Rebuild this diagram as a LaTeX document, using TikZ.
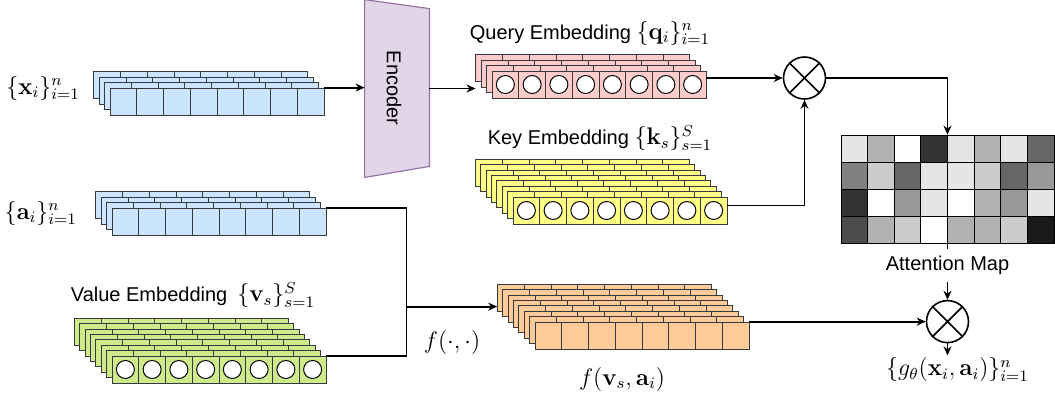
\documentclass[tikz,border=0pt]{standalone}
\usepackage{amsmath}
\usepackage{amssymb}
\usepackage[no-math]{fontspec}
\usepackage{tikz}
\usetikzlibrary{arrows.meta,positioning}
\newfontfamily\arialfont{Liberation Sans}
\definecolor{xblue}{HTML}{CCE5FF}
\definecolor{qpink}{HTML}{FFCCCC}
\definecolor{kyellow}{HTML}{FFFF88}
\definecolor{vgreen}{HTML}{CDEB8B}
\definecolor{forange}{HTML}{FFCC99}
\definecolor{encfill}{HTML}{E1D5E7}
\definecolor{encline}{HTML}{9673A6}
\definecolor{cellline}{HTML}{36393D}
\tikzset{
	cell/.style={draw=cellline, line width=0.5pt},
	dot/.style={draw=black, fill=white, line width=0.5pt},
	row/.style={inner sep=0pt, minimum width=107pt, minimum height=13.5pt},
	mapcell/.style={draw=black, line width=0.5pt},
	mul/.style={circle, draw, fill=white, line width=0.8pt, minimum size=21pt, inner sep=0pt},
	txt/.style={font=\arialfont\fontsize{10}{12}\selectfont},
	mth/.style={font=\fontsize{12}{14}\selectfont},
	conn/.style={line width=0.9pt}
}
% name, x and y of the front row, index of the back layer, fill
\newcommand{\embstack}[5]{
	\foreach \k in {#4,...,0}{
		\foreach \c in {0,...,7}
			\draw[cell,fill=#5] ({#2-5.35*\k+26.75*\c},{#3-5.35*\k}) rectangle ++(26.75,27);
	}
	\node[row](#1) at ({#2+107},{#3+13.5}){};
	\node[row](#1b) at ({#2+107-5.35*#4},{#3+13.5-5.35*#4}){};
}
\newcommand{\embdots}[2]{
	\foreach \c in {0,...,7}
		\draw[dot] ({#1+26.75*\c+13.375},{#2+13.5}) circle[radius=4.5pt];
}

\begin{document}
\begin{tikzpicture}[x=0.5pt, y=-0.5pt, >={Stealth[length=4.5pt,width=4pt]}]
		\useasboundingbox (0,0) rectangle (1055,398);
		\embstack{X}{110}{88}{3}{xblue}
		\embstack{A}{112}{208}{3}{xblue}
		\embstack{Q}{492}{71}{3}{qpink}
		\embdots{492}{71}
		\embstack{K}{513}{197}{7}{kyellow}
		\embdots{513}{197}
		\embstack{V}{112}{356}{7}{vgreen}
		\embdots{112}{356}
		\embstack{F}{535}{322}{7}{forange}

		\node[inner sep=0pt, minimum width=32pt, minimum height=88.5pt](E) at (397,88.5){};
		\draw[fill=encfill, draw=encline, line width=0.6pt] (E.north west) -- ([yshift=-4.5pt]E.north east) -- ([yshift=5.5pt]E.south east) -- (E.south west) -- cycle;
		\node[txt, rotate=-90](EL) at (394,88){Encoder};

		\foreach \row [count=\r from 0] in {{10,30,0,80,10,30,10,60},{50,20,60,10,10,20,60,40},{80,0,40,10,0,30,40,10},{70,30,20,0,30,30,20,90}}{
			\foreach \v [count=\c from 0] in \row
				\draw[mapcell, fill=black!\v] ({841+26.625*\c},{135+27*\r}) rectangle ++(26.625,27);
		}
		\node[inner sep=0pt, minimum width=106.5pt, minimum height=54pt](G) at (947.5,189){};

		\node[mul](M) at (804.5,78){};
		\draw[line width=0.8pt] (M.north west) -- (M.south east) (M.north east) -- (M.south west);
		\node[txt](L)[below=3pt of G]{Attention Map};
		\node[mul](N) at (G.south |- F.north east){};
		\draw[line width=0.8pt] (N.north west) -- (N.south east) (N.north east) -- (N.south west);

		\node[mth, anchor=east](XL) at (87,88){$\{\mathbf{x}_i\}_{i=1}^n$};
		\node[mth, anchor=east](AL) at (84,213){$\{\mathbf{a}_i\}_{i=1}^n$};
		\node[txt](QL) at (590,33){Query Embedding {\large$\{\mathbf{q}_i\}_{i=1}^n$}};
		\node[txt](KL) at (600,138){Key Embedding {\large$\{\mathbf{k}_s\}_{s=1}^S$}};
		\node[txt](VL) at (193,295){Value Embedding\enspace{\large$\{\mathbf{v}_s\}_{s=1}^S$}};
		\node[mth](FL) at (452,342){$f(\cdot,\cdot)$};
		\node[mth](FVL) at (622,379){$f(\mathbf{v}_s,\mathbf{a}_i)$};
		\node[mth, inner sep=1pt](GL)[below=6pt of N, xshift=5pt]{$\{g_\theta(\mathbf{x}_i,\mathbf{a}_i)\}_{i=1}^n$};

		\coordinate (J) at ([xshift=40pt]V.north east);
		\coordinate (T) at ([yshift=24.5pt]J);
		\draw[conn] (A.north east) -| (J) -- (V.north east);
		\draw[conn] (G.south) -- (L.north);
		\draw[conn]
		(X.north east) edge[->] (E.west |- X.north east)
		(E.east) edge[->] (Qb.west |- E.east)
		(Q.east |- M) edge[->] (M)
		(T) edge[->] (Fb.west |- T)
		(F.north east) edge[->] (N)
		(L.south) edge[->] (N)
		(N) edge[->] (N |- GL.north);
		\draw[conn, ->] ([yshift=2.5pt]K.east) -| (M);
		\draw[conn, ->] (M) -| (G.north);
		\end{tikzpicture}
\end{document}
